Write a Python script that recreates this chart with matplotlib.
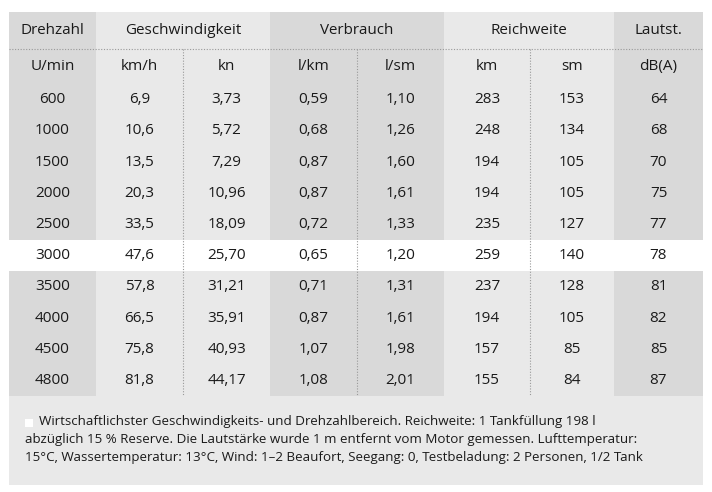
import matplotlib
matplotlib.use("Agg")
import matplotlib.pyplot as plt
from matplotlib.patches import Rectangle
from matplotlib import font_manager

groups = ["Drehzahl", "Geschwindigkeit", "Verbrauch", "Reichweite", "Lautst."]
units = ["U/min", "km/h", "kn", "l/km", "l/sm", "km", "sm", "dB(A)"]
drehzahl = ["600", "1000", "1500", "2000", "2500", "3000", "3500", "4000", "4500", "4800"]
kmh = ["6,9", "10,6", "13,5", "20,3", "33,5", "47,6", "57,8", "66,5", "75,8", "81,8"]
kn = ["3,73", "5,72", "7,29", "10,96", "18,09", "25,70", "31,21", "35,91", "40,93", "44,17"]
lkm = ["0,59", "0,68", "0,87", "0,87", "0,72", "0,65", "0,71", "0,87", "1,07", "1,08"]
lsm = ["1,10", "1,26", "1,60", "1,61", "1,33", "1,20", "1,31", "1,61", "1,98", "2,01"]
rkm = ["283", "248", "194", "194", "235", "259", "237", "194", "157", "155"]
rsm = ["153", "134", "105", "105", "127", "140", "128", "105", "85", "84"]
dba = ["64", "68", "70", "75", "77", "78", "81", "82", "85", "87"]
highlight_row = "3000"
footnote = ("Wirtschaftlichster Geschwindigkeits- und Drehzahlbereich. Reichweite: 1 Tankfüllung 198 l\n"
            "abzüglich 15 % Reserve. Die Lautstärke wurde 1 m entfernt vom Motor gemessen. Lufttemperatur:\n"
            "15°C, Wassertemperatur: 13°C, Wind: 1–2 Beaufort, Seegang: 0, Testbeladung: 2 Personen, 1/2 Tank")

names = {f.name for f in font_manager.fontManager.ttflist}
fam = "Liberation Sans Narrow" if "Liberation Sans Narrow" in names else "Open Sans"

cols = [drehzahl, kmh, kn, lkm, lsm, rkm, rsm, dba]
xb = [9, 96, 183, 270, 357, 444, 530, 614, 703]
group_span = [(0, 1), (1, 3), (3, 5), (5, 7), (7, 8)]
dark = "#d9d9d9"
light = "#e9e9e9"
col_color = [dark, light, light, dark, dark, light, light, dark]

fig = plt.figure(figsize=(7.12, 4.92), dpi=100)
ax = fig.add_axes([0, 0, 1, 1])
ax.set_xlim(0, 712); ax.set_ylim(492, 0); ax.axis("off")

top, hh, uh, rh = 12, 37, 35, 31.2
y0 = top + hh + uh
nrow = len(drehzahl)
yend = y0 + nrow * rh
fs = 11

for gi, (a, b) in enumerate(group_span):
    ax.add_patch(Rectangle((xb[a], top), xb[b] - xb[a], hh, color=col_color[a], lw=0))
    ax.text((xb[a] + xb[b]) / 2, top + hh / 2, groups[gi], ha="center", va="center",
            fontsize=fs, family=fam, color="#1a1a1a")
for ci in range(8):
    ax.add_patch(Rectangle((xb[ci], top + hh), xb[ci + 1] - xb[ci], yend - top - hh,
                           color=col_color[ci], lw=0))
ax.plot([xb[0], xb[-1]], [top + hh, top + hh], ls=(0, (1, 1.5)), color="#999999", lw=0.8)
hi = drehzahl.index(highlight_row)
ax.add_patch(Rectangle((xb[0], y0 + hi * rh), xb[-1] - xb[0], rh, color="white", lw=0))
for a, b in group_span:
    if b - a == 2:
        ax.plot([xb[a + 1]] * 2, [top + hh, yend], ls=(0, (1, 1.5)), color="#999999", lw=0.8)
for ci in range(8):
    xc = (xb[ci] + xb[ci + 1]) / 2
    ax.text(xc, top + hh + uh / 2, units[ci], ha="center", va="center", fontsize=fs,
            family=fam, color="#1a1a1a")
    for ri, v in enumerate(cols[ci]):
        ax.text(xc, y0 + (ri + 0.5) * rh, v, ha="center", va="center", fontsize=fs,
                family=fam, color="#1a1a1a")
ax.add_patch(Rectangle((xb[0], yend), xb[-1] - xb[0], 485 - yend, color="#e9e9e9", lw=0))
ax.add_patch(Rectangle((25, yend + 23), 8, 8, color="white", lw=0))
ax.text(25, yend + 19, "    " + footnote, ha="left", va="top", fontsize=9.6, family=fam,
        color="#1a1a1a", linespacing=1.5)

fig.savefig("out.png", dpi=100)
